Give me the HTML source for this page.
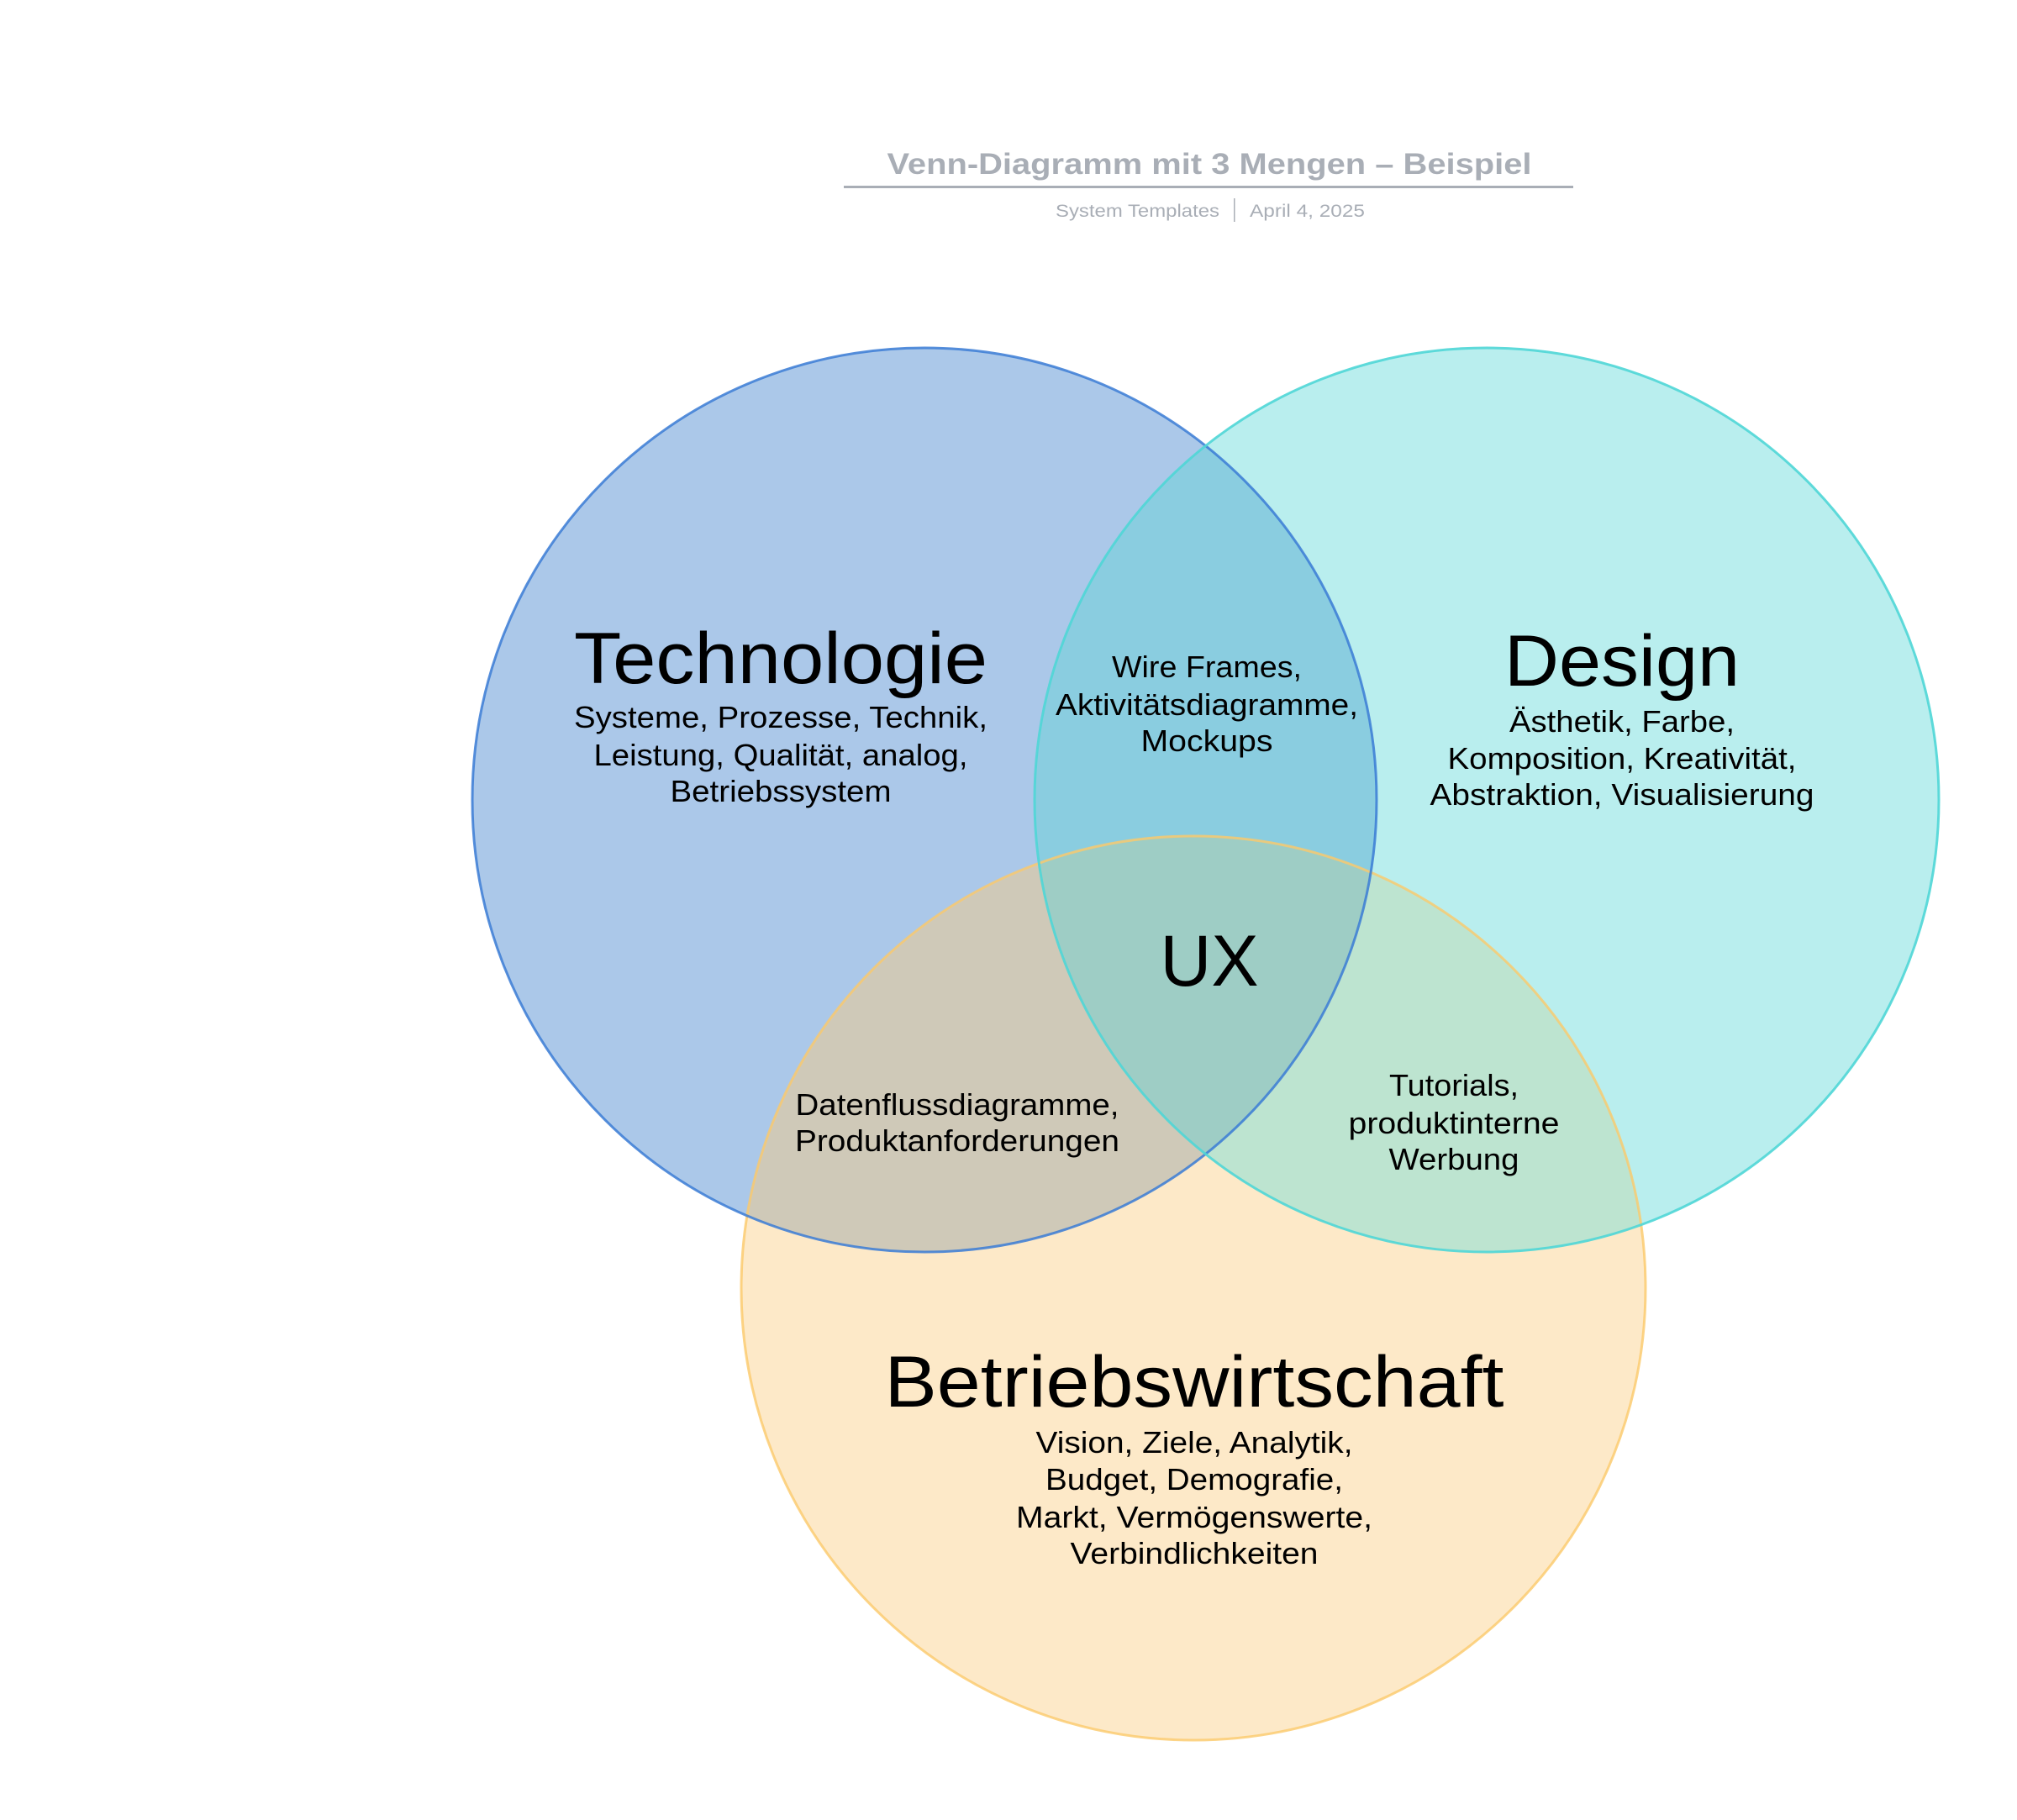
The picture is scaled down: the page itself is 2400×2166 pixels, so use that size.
<!DOCTYPE html>
<html><head><meta charset="utf-8"><style>
html,body{margin:0;padding:0;background:#fff}
svg{display:block}
text{font-family:"Liberation Sans",sans-serif;fill:#000}
</style></head><body>
<svg width="2400" height="2166" viewBox="0 0 2400 2166" xmlns="http://www.w3.org/2000/svg">
<defs>
<clipPath id="c1"><circle cx="1106" cy="957" r="538"/></clipPath>
<clipPath id="c2"><circle cx="1775" cy="957" r="538"/></clipPath>
<clipPath id="c3"><circle cx="1426" cy="1538" r="538"/></clipPath>
</defs>
<rect width="2400" height="2166" fill="#fff"/>
<g transform="translate(-5,0)">
<text x="1444" y="207" text-anchor="middle" font-size="35" font-weight="bold" textLength="767" lengthAdjust="spacingAndGlyphs" style="fill:#a9aeb6">Venn-Diagramm mit 3 Mengen – Beispiel</text>
<rect x="1009" y="221" width="868" height="3" fill="#a9aeb6"/>
<text x="1261" y="258" font-size="21" textLength="195" lengthAdjust="spacingAndGlyphs" style="fill:#a9aeb6">System Templates</text>
<rect x="1473" y="236" width="1.5" height="28" fill="#a9aeb6"/>
<text x="1492" y="258" font-size="21" textLength="137" lengthAdjust="spacingAndGlyphs" style="fill:#a9aeb6">April 4, 2025</text>
</g>

<g transform="translate(-6,-5)">
<circle cx="1426" cy="1538" r="538" fill="#fde9c8"/>
<circle cx="1106" cy="957" r="538" fill="#abc8e9"/>
<circle cx="1775" cy="957" r="538" fill="#b9eeee"/>
<g clip-path="url(#c1)"><circle cx="1775" cy="957" r="538" fill="#8acde0"/><circle cx="1426" cy="1538" r="538" fill="#cfc9b8"/></g>
<g clip-path="url(#c2)"><circle cx="1426" cy="1538" r="538" fill="#bde4d0"/></g>
<g clip-path="url(#c1)"><g clip-path="url(#c2)"><circle cx="1426" cy="1538" r="538" fill="#9ecdc5"/></g></g>
<circle cx="1426" cy="1538" r="538" fill="none" stroke="#fbc96a" stroke-width="3" opacity="0.8"/>
<circle cx="1106" cy="957" r="538" fill="none" stroke="#3a7bd5" stroke-width="3" opacity="0.85"/>
<circle cx="1775" cy="957" r="538" fill="none" stroke="#4fd6d6" stroke-width="3" opacity="0.9"/>
</g>

<g transform="translate(-5,0)">
<g text-anchor="middle">
<text x="934" y="813" font-size="86" textLength="492" lengthAdjust="spacingAndGlyphs">Technologie</text>
<text x="1935" y="816" font-size="86" textLength="280" lengthAdjust="spacingAndGlyphs">Design</text>
<text x="1444" y="1173" font-size="86" textLength="117" lengthAdjust="spacingAndGlyphs">UX</text>
<text x="1426" y="1674" font-size="86" textLength="737" lengthAdjust="spacingAndGlyphs">Betriebswirtschaft</text>
</g>
<g font-size="36" text-anchor="middle">
<text x="934" y="866" textLength="492" lengthAdjust="spacingAndGlyphs">Systeme, Prozesse, Technik,</text>
<text x="934" y="911" textLength="445" lengthAdjust="spacingAndGlyphs">Leistung, Qualität, analog,</text>
<text x="934" y="954" textLength="263" lengthAdjust="spacingAndGlyphs">Betriebssystem</text>
<text x="1441" y="806" textLength="226" lengthAdjust="spacingAndGlyphs">Wire Frames,</text>
<text x="1441" y="851" textLength="360" lengthAdjust="spacingAndGlyphs">Aktivitätsdiagramme,</text>
<text x="1441" y="894" textLength="157" lengthAdjust="spacingAndGlyphs">Mockups</text>
<text x="1935" y="871" textLength="268" lengthAdjust="spacingAndGlyphs">Ästhetik, Farbe,</text>
<text x="1935" y="915" textLength="415" lengthAdjust="spacingAndGlyphs">Komposition, Kreativität,</text>
<text x="1935" y="958" textLength="457" lengthAdjust="spacingAndGlyphs">Abstraktion, Visualisierung</text>
<text x="1144" y="1327" textLength="385" lengthAdjust="spacingAndGlyphs">Datenflussdiagramme,</text>
<text x="1144" y="1370" textLength="386" lengthAdjust="spacingAndGlyphs">Produktanforderungen</text>
<text x="1735" y="1304" textLength="154" lengthAdjust="spacingAndGlyphs">Tutorials,</text>
<text x="1735" y="1349" textLength="251" lengthAdjust="spacingAndGlyphs">produktinterne</text>
<text x="1735" y="1392" textLength="155" lengthAdjust="spacingAndGlyphs">Werbung</text>
<text x="1426" y="1729" textLength="377" lengthAdjust="spacingAndGlyphs">Vision, Ziele, Analytik,</text>
<text x="1426" y="1773" textLength="354" lengthAdjust="spacingAndGlyphs">Budget, Demografie,</text>
<text x="1426" y="1818" textLength="424" lengthAdjust="spacingAndGlyphs">Markt, Vermögenswerte,</text>
<text x="1426" y="1861" textLength="295" lengthAdjust="spacingAndGlyphs">Verbindlichkeiten</text>
</g>
</g>
</svg>
</body></html>
